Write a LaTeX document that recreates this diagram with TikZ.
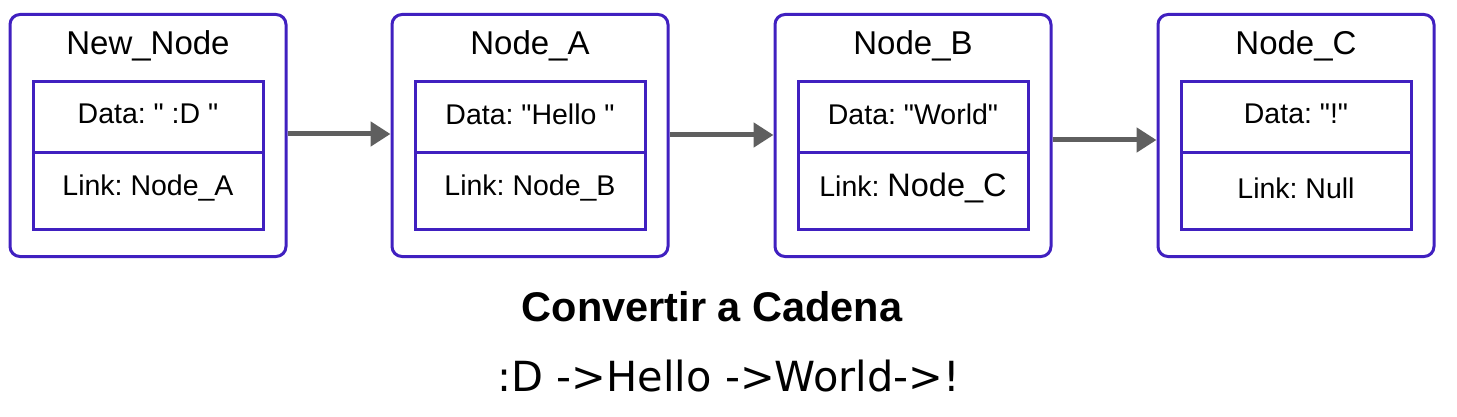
\documentclass[tikz,border=0pt]{standalone}
\usepackage{fontspec}
\setmainfont{Liberation Sans}[Ligatures=TeXOff]
\newfontfamily\dejavu{DejaVu Sans}[Ligatures=TeXOff]
\usetikzlibrary{arrows.meta}
\definecolor{boxblue}{RGB}{64,32,192}
\definecolor{arrgray}{RGB}{95,95,95}
\frenchspacing
\tikzset{
  outerbox/.style={draw=boxblue, line width=3pt, rounded corners=10pt, minimum width=276pt, minimum height=242pt, inner sep=0pt},
  datacell/.style={draw=boxblue, line width=3pt, minimum width=230pt, minimum height=71pt, inner sep=0pt},
  linkcell/.style={draw=boxblue, line width=3pt, minimum width=230pt, minimum height=76pt, inner sep=0pt},
  titletxt/.style={font=\fontsize{33}{36}\selectfont, inner sep=0pt},
  celltxt/.style={font=\fontsize{28.5}{32}\selectfont, inner sep=0pt},
  conn/.style={draw=arrgray, line width=5pt, -{Triangle[length=20pt,width=24pt]}},
}
\begin{document}
\begin{tikzpicture}[x=1pt,y=-1pt]
\useasboundingbox (0,0) rectangle (1457,417);
\foreach \n/\cx/\t/\d in {b1/148/New\_Node/Data: " :D ",b2/530/Node\_A/Data: "Hello ",b3/913/Node\_B/Data: "World",b4/1296/Node\_C/Data: "!"}{
  \node[outerbox] (\n) at (\cx,135.5) {};
  \node[datacell] (\n d) at (\cx,117.5) {};
  \node[linkcell] (\n l) at (\cx,191) {};
  \node[titletxt] (\n t) at (\cx,46) {\t};
  \node[celltxt] (\n dt) at (\cx,114) {\d};
}
\node[celltxt] (b1lt) at (148,188) {Link: Node\_A};
\node[celltxt] (b2lt) at (530,188) {Link: Node\_B};
\node[celltxt] (b3lt) at (913,188) {Link: {\fontsize{32.5}{36}\selectfont Node\_C}};
\node[celltxt] (b4lt) at (1296,188) {Link: Null};
\draw[conn] (b1.east |- 0,134) -- (b2.west |- 0,134);
\draw[conn] (b2.east |- 0,135) -- (b3.west |- 0,135);
\draw[conn] (b3.east |- 0,140) -- (b4.west |- 0,140);
\node[font=\bfseries\fontsize{41.5}{44}\selectfont, inner sep=0pt] (title) at (712,307) {Convertir a Cadena};
\node[font=\dejavu\fontsize{41.5}{46}\selectfont, inner sep=0pt] (chain) at (729,376) {:D ->Hello ->World->!};
\end{tikzpicture}
\end{document}
